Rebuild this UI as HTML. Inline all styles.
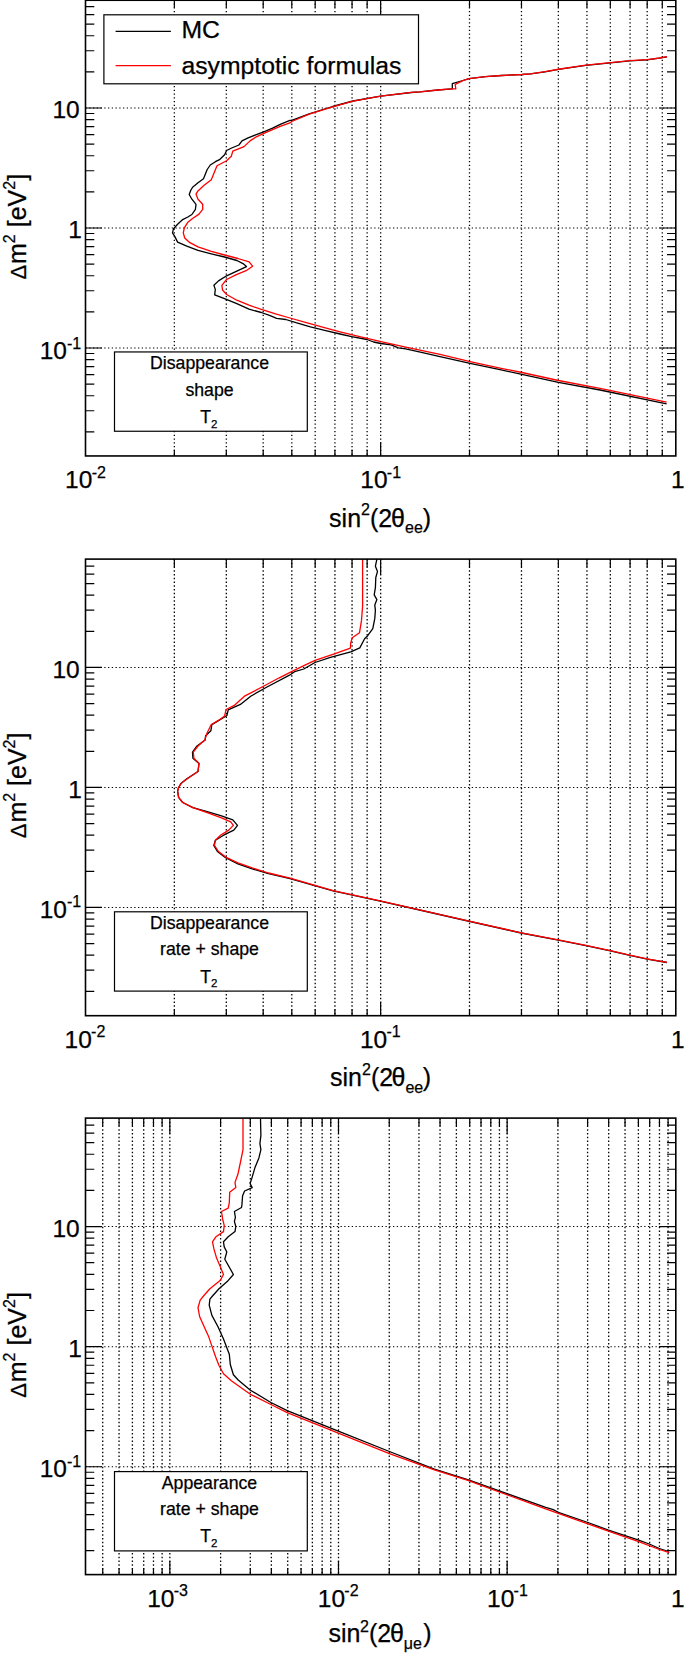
<!DOCTYPE html>
<html><head><meta charset="utf-8"><title>plots</title>
<style>html,body{margin:0;padding:0;background:#fff}svg{display:block}</style>
</head><body>
<svg width="685" height="1655" viewBox="0 0 685 1655" font-family='"Liberation Sans", sans-serif' fill="#000"><style>text{stroke:#000;stroke-width:0.25px}</style>
<rect x="0" y="0" width="685" height="1655" fill="#fff"/>
<g>
<path d="M174.35 -0.35V455.95M226.32 -0.35V455.95M263.2 -0.35V455.95M291.8 -0.35V455.95M315.17 -0.35V455.95M334.93 -0.35V455.95M352.05 -0.35V455.95M367.14 -0.35V455.95M380.65 -0.35V455.95M469.5 -0.35V455.95M521.47 -0.35V455.95M558.35 -0.35V455.95M586.95 -0.35V455.95M610.32 -0.35V455.95M630.08 -0.35V455.95M647.2 -0.35V455.95M662.29 -0.35V455.95" stroke="#000" stroke-width="1.3" stroke-dasharray="1.3 2.45" fill="none"/>
<path d="M85.5 348.02H675.8M85.5 228.02H675.8M85.5 108.02H675.8" stroke="#000" stroke-width="1.05" stroke-dasharray="1.3 2.45" fill="none"/>
<path d="M174.35 455.95v-6.3M174.35 -0.35v8M226.32 455.95v-6.3M226.32 -0.35v8M263.2 455.95v-6.3M263.2 -0.35v8M291.8 455.95v-6.3M291.8 -0.35v8M315.17 455.95v-6.3M315.17 -0.35v8M334.93 455.95v-6.3M334.93 -0.35v8M352.05 455.95v-6.3M352.05 -0.35v8M367.14 455.95v-6.3M367.14 -0.35v8M380.65 455.95v-13.7M380.65 -0.35v15.6M469.5 455.95v-6.3M469.5 -0.35v8M521.47 455.95v-6.3M521.47 -0.35v8M558.35 455.95v-6.3M558.35 -0.35v8M586.95 455.95v-6.3M586.95 -0.35v8M610.32 455.95v-6.3M610.32 -0.35v8M630.08 455.95v-6.3M630.08 -0.35v8M647.2 455.95v-6.3M647.2 -0.35v8M662.29 455.95v-6.3M662.29 -0.35v8M85.5 431.9h8.8M675.8 431.9h-8.8M85.5 410.77h8.8M675.8 410.77h-8.8M85.5 395.77h8.8M675.8 395.77h-8.8M85.5 384.14h8.8M675.8 384.14h-8.8M85.5 374.64h8.8M675.8 374.64h-8.8M85.5 366.61h8.8M675.8 366.61h-8.8M85.5 359.65h8.8M675.8 359.65h-8.8M85.5 353.51h8.8M675.8 353.51h-8.8M85.5 348.02h16.5M675.8 348.02h-16.5M85.5 311.9h8.8M675.8 311.9h-8.8M85.5 290.77h8.8M675.8 290.77h-8.8M85.5 275.77h8.8M675.8 275.77h-8.8M85.5 264.14h8.8M675.8 264.14h-8.8M85.5 254.64h8.8M675.8 254.64h-8.8M85.5 246.61h8.8M675.8 246.61h-8.8M85.5 239.65h8.8M675.8 239.65h-8.8M85.5 233.51h8.8M675.8 233.51h-8.8M85.5 228.02h16.5M675.8 228.02h-16.5M85.5 191.9h8.8M675.8 191.9h-8.8M85.5 170.77h8.8M675.8 170.77h-8.8M85.5 155.77h8.8M675.8 155.77h-8.8M85.5 144.14h8.8M675.8 144.14h-8.8M85.5 134.64h8.8M675.8 134.64h-8.8M85.5 126.61h8.8M675.8 126.61h-8.8M85.5 119.65h8.8M675.8 119.65h-8.8M85.5 113.51h8.8M675.8 113.51h-8.8M85.5 108.02h16.5M675.8 108.02h-16.5M85.5 71.9h8.8M675.8 71.9h-8.8M85.5 50.77h8.8M675.8 50.77h-8.8M85.5 35.77h8.8M675.8 35.77h-8.8M85.5 24.14h8.8M675.8 24.14h-8.8M85.5 14.64h8.8M675.8 14.64h-8.8M85.5 6.61h8.8M675.8 6.61h-8.8" stroke="#000" stroke-width="1.2" fill="none"/>
<path d="M667 56.8 L659.4 58.2 L647.2 59.8 L629.8 60.9 L610.4 62.9 L585.9 65.4 L560 69.2 L545 71.8 L530.4 73.9 L522.2 74.5 L501.7 75.5 L485.4 76.6 L469 78.6 L462.9 80.5 L452.3 83.7 L452.3 88.8 L437.7 90 L420 91.9 L411.4 92.5 L380.7 96.1 L353 101 L332.6 106.5 L309.2 113.8 L291.7 120.4 L290 120.4 L280.8 124.1 L272.6 128.2 L264.4 131.7 L256.3 134.7 L248.1 137.8 L242 140.9 L238.9 145 L231.7 148 L226.6 150.5 L224.6 154.8 L219.5 159.7 L215.4 161.7 L210.3 165 L207.2 169.5 L203.5 178.7 L198 182.8 L192.9 186.9 L190.9 190 L189.2 194.5 L191.9 199.2 L196 204.3 L195.4 209.4 L191.9 214.5 L187.8 217 L182.7 219.6 L177.6 224.3 L173.5 228.8 L172.5 232.9 L174.9 236.6 L177.6 242.1 L186.8 246.2 L198 250.3 L211.3 253.8 L224.6 257 L236.9 260.5 L243 263.6 L246.5 266.6 L237.9 270.7 L226.6 275.8 L218.5 280.9 L213.9 285.3 L215.3 289.4 L214.7 294.9 L224.5 298.6 L236.8 303.7 L249 309.2 L261.3 312.5 L269.5 315.4 L276.6 318.4 L285.8 319.5 L296 322.7 L310.4 326.8 L324.7 330.3 L340 334 L351.7 336.6 L367 339.5 L373.6 342 L380.9 343.5 L391.1 344.9 L398.4 347.8 L405.7 348.9 L420.3 352.2 L440 356.6 L470.1 363.4 L500 369.7 L521.9 374.3 L558.4 382.3 L600 390 L666.6 403.9" stroke="#000" stroke-width="1.3" fill="none" stroke-linejoin="round"/>
<path d="M667 56.6 L659.4 58 L647.2 59.6 L629.8 60.7 L610.4 62.7 L585.9 65.2 L560 69 L545 71.6 L530.4 73.9 L522.2 74.5 L501.7 75.5 L485.4 76.6 L469 78.6 L462.9 80.7 L455.2 84.3 L455.8 88.8 L451.7 88.8 L437.7 90 L420 91.9 L411.4 92.3 L380.7 96.1 L353 101.1 L332.6 106.9 L309.2 114.2 L291.7 121.5 L290 122.9 L280.8 126.2 L272.6 129.6 L264.4 133.1 L256.3 136.8 L250.1 140.9 L244 146.6 L232.8 151.1 L231.3 156.2 L226.6 160.7 L217 165.8 L211.3 179.7 L203.5 185.8 L198 190.9 L196 194.1 L198 199.2 L202.7 204.3 L202.7 209.4 L199 214.1 L192.9 218.2 L187.8 222.3 L184.3 227.8 L183.3 232.9 L184.7 238 L189.9 242.7 L198 246.8 L211.3 251.3 L224.6 255 L237.9 258.5 L249.1 261.9 L252.6 266.2 L246.1 270.7 L235.8 274.8 L226.6 279.5 L221.9 285.3 L222.5 290 L226.6 294.5 L236.8 300.2 L249 305.2 L261.3 309.4 L275.6 313.9 L289.9 318 L306.3 322.7 L322.6 327.2 L340 331.8 L367 338.4 L380.9 341.6 L405.7 347.1 L440 354.4 L470.1 361.6 L500 368.1 L521.9 372.5 L558.4 380.5 L600 388.3 L666.6 402.1" stroke="#f00" stroke-width="1.3" fill="none" stroke-linejoin="round"/>
<rect x="85.5" y="0.25" width="590.3" height="455.7" fill="none" stroke="#000" stroke-width="1.6"/>
<rect x="103.9" y="14.8" width="314.6" height="69" fill="#fff" stroke="#000" stroke-width="1.2"/>
<path d="M115.6 31.4H170.9" stroke="#000" stroke-width="1.2"/>
<path d="M115.6 65.7H170.9" stroke="#f00" stroke-width="1.2"/>
<text x="181.4" y="38.2" font-size="24.75">MC</text>
<text x="181.4" y="73.6" font-size="24.75">asymptotic formulas</text>
<rect x="114.5" y="351.95" width="192.8" height="79.3" fill="#fff" stroke="#000" stroke-width="1.2"/>
<text x="209.5" y="368.95" font-size="17.7" text-anchor="middle">Disappearance</text>
<text x="209.5" y="395.65" font-size="17.7" text-anchor="middle">shape</text>
<text x="200.2" y="423.05" font-size="17.7">T<tspan font-size="11.5" dy="4.5">2</tspan></text>
<text x="79.7" y="118.42" font-size="24.5" text-anchor="end">10</text>
<text x="81.9" y="238.42" font-size="24.5" text-anchor="end">1</text>
<text x="81.2" y="359.42" font-size="24.5" text-anchor="end">10<tspan font-size="16.0" dy="-10.5">-1</tspan></text>
<text x="85.5" y="488.05" font-size="24.5" text-anchor="middle">10<tspan font-size="16.0" dy="-10.5" dx="-0.7">-2</tspan></text>
<text x="380.65" y="488.05" font-size="24.5" text-anchor="middle">10<tspan font-size="16.0" dy="-10.5" dx="-0.7">-1</tspan></text>
<text x="677.8" y="488.05" font-size="24.5" text-anchor="middle">1</text>
<text x="329.1" y="526.65" font-size="25.0">sin<tspan font-size="16" dy="-11.5" dx="0">2</tspan><tspan dy="11.5">(2</tspan><tspan dx="-1.1">θ</tspan><tspan font-size="16" dy="6.5">ee</tspan><tspan dy="-6.5" dx="0">)</tspan></text>
<text transform="translate(26 279.55) rotate(-90)" font-size="25.0"><tspan font-size="22">Δ</tspan><tspan dx="0.9">m</tspan><tspan font-size="16" dy="-11.5">2</tspan><tspan dy="11.5"> [eV</tspan><tspan font-size="16" dy="-11.5">2</tspan><tspan dy="11.5">]</tspan></text>
</g>
<g>
<path d="M174.35 559.1V1015.7M226.32 559.1V1015.7M263.2 559.1V1015.7M291.8 559.1V1015.7M315.17 559.1V1015.7M334.93 559.1V1015.7M352.05 559.1V1015.7M367.14 559.1V1015.7M380.65 559.1V1015.7M469.5 559.1V1015.7M521.47 559.1V1015.7M558.35 559.1V1015.7M586.95 559.1V1015.7M610.32 559.1V1015.7M630.08 559.1V1015.7M647.2 559.1V1015.7M662.29 559.1V1015.7" stroke="#000" stroke-width="1.3" stroke-dasharray="1.3 2.45" fill="none"/>
<path d="M85.5 907.47H675.8M85.5 787.47H675.8M85.5 667.47H675.8" stroke="#000" stroke-width="1.05" stroke-dasharray="1.3 2.45" fill="none"/>
<path d="M174.35 1015.7v-6.3M174.35 559.1v8M226.32 1015.7v-6.3M226.32 559.1v8M263.2 1015.7v-6.3M263.2 559.1v8M291.8 1015.7v-6.3M291.8 559.1v8M315.17 1015.7v-6.3M315.17 559.1v8M334.93 1015.7v-6.3M334.93 559.1v8M352.05 1015.7v-6.3M352.05 559.1v8M367.14 1015.7v-6.3M367.14 559.1v8M380.65 1015.7v-13.7M380.65 559.1v15.6M469.5 1015.7v-6.3M469.5 559.1v8M521.47 1015.7v-6.3M521.47 559.1v8M558.35 1015.7v-6.3M558.35 559.1v8M586.95 1015.7v-6.3M586.95 559.1v8M610.32 1015.7v-6.3M610.32 559.1v8M630.08 1015.7v-6.3M630.08 559.1v8M647.2 1015.7v-6.3M647.2 559.1v8M662.29 1015.7v-6.3M662.29 559.1v8M85.5 991.35h8.8M675.8 991.35h-8.8M85.5 970.22h8.8M675.8 970.22h-8.8M85.5 955.22h8.8M675.8 955.22h-8.8M85.5 943.59h8.8M675.8 943.59h-8.8M85.5 934.09h8.8M675.8 934.09h-8.8M85.5 926.06h8.8M675.8 926.06h-8.8M85.5 919.1h8.8M675.8 919.1h-8.8M85.5 912.96h8.8M675.8 912.96h-8.8M85.5 907.47h16.5M675.8 907.47h-16.5M85.5 871.35h8.8M675.8 871.35h-8.8M85.5 850.22h8.8M675.8 850.22h-8.8M85.5 835.22h8.8M675.8 835.22h-8.8M85.5 823.59h8.8M675.8 823.59h-8.8M85.5 814.09h8.8M675.8 814.09h-8.8M85.5 806.06h8.8M675.8 806.06h-8.8M85.5 799.1h8.8M675.8 799.1h-8.8M85.5 792.96h8.8M675.8 792.96h-8.8M85.5 787.47h16.5M675.8 787.47h-16.5M85.5 751.35h8.8M675.8 751.35h-8.8M85.5 730.22h8.8M675.8 730.22h-8.8M85.5 715.22h8.8M675.8 715.22h-8.8M85.5 703.59h8.8M675.8 703.59h-8.8M85.5 694.09h8.8M675.8 694.09h-8.8M85.5 686.06h8.8M675.8 686.06h-8.8M85.5 679.1h8.8M675.8 679.1h-8.8M85.5 672.96h8.8M675.8 672.96h-8.8M85.5 667.47h16.5M675.8 667.47h-16.5M85.5 631.35h8.8M675.8 631.35h-8.8M85.5 610.22h8.8M675.8 610.22h-8.8M85.5 595.22h8.8M675.8 595.22h-8.8M85.5 583.59h8.8M675.8 583.59h-8.8M85.5 574.09h8.8M675.8 574.09h-8.8M85.5 566.06h8.8M675.8 566.06h-8.8" stroke="#000" stroke-width="1.2" fill="none"/>
<path d="M376.9 559.1 L375.4 566.2 L377.5 571.4 L375.8 577.5 L375.4 587.7 L374.2 594.9 L376.9 599.6 L374.8 605.1 L375.4 610.2 L374.8 618.4 L372.8 628.6 L367.7 635.7 L364.6 638.8 L359.8 647.9 L350.8 651.9 L330.4 657.4 L315 662.5 L303.8 669 L294.6 671.7 L289.5 675.2 L267 687 L250.7 696.2 L240.4 704.4 L228.2 709.9 L226.9 715.5 L218.5 720.6 L211.8 724.7 L210.9 730.7 L205.6 735.8 L205.2 739.9 L197 746 L192.5 752.1 L192.9 758.2 L199 763.4 L198 771.5 L186.8 778.7 L180.7 783.8 L178.4 788 L177.6 791.2 L178.6 797.4 L182.7 802.5 L192.9 807.6 L207.2 811.7 L221.5 815.8 L232.8 819.9 L237.5 825.4 L233.8 830.1 L223.6 835.2 L215.4 840.3 L213.8 845.4 L217.4 851.5 L225.6 857.7 L237.9 863.8 L252.2 868.9 L268.5 873.6 L290 878.7 L333.1 890.9 L380.2 901.1 L410.8 908 L470.1 921.5 L521.2 933 L558.3 940.1 L585.9 945.6 L610.4 950.9 L629.8 955.4 L647.2 959.1 L667 962.5" stroke="#000" stroke-width="1.3" fill="none" stroke-linejoin="round"/>
<path d="M362.6 559.1 L362.6 606.1 L361.5 620.4 L359.5 632.7 L352.3 637.8 L350.7 642.9 L350.4 648.2 L334.4 653.9 L315 660.4 L301.8 666.6 L292.6 671.1 L279.3 677.8 L263.9 686 L244.5 696.2 L239.4 700.7 L234.3 705.4 L226.1 709.5 L224.6 715.9 L218.5 720.4 L211.3 724.5 L207.2 732.7 L204.8 739.9 L198 746 L193.3 752.1 L193.9 758.2 L199 763.4 L198 771.5 L188.8 777.7 L181.7 782.8 L178.6 787.5 L177.6 791.2 L178.6 797.4 L182.7 802.5 L192.9 807.6 L207.2 812.7 L221.5 817.8 L230.7 821.9 L233.4 825.4 L228.7 830.1 L220.5 835.2 L215.4 840.3 L214.4 845.4 L218.5 851.5 L226.6 857.7 L237.9 862.8 L252.2 867.9 L268.5 873 L290 878.1 L333.1 890.7 L380.2 900.9 L410.8 907.8 L470.1 921.3 L521.2 932.8 L558.3 939.9 L585.9 945.4 L610.4 950.7 L629.8 955.2 L647.2 958.9 L667 962.3" stroke="#f00" stroke-width="1.3" fill="none" stroke-linejoin="round"/>
<rect x="85.5" y="559.1" width="590.3" height="456.6" fill="none" stroke="#000" stroke-width="1.6"/>
<rect x="114.5" y="911.8" width="192.8" height="79.3" fill="#fff" stroke="#000" stroke-width="1.2"/>
<text x="209.5" y="929.1" font-size="17.7" text-anchor="middle">Disappearance</text>
<text x="209.5" y="955.1" font-size="17.7" text-anchor="middle">rate + shape</text>
<text x="200.2" y="982.5" font-size="17.7">T<tspan font-size="11.5" dy="4.5">2</tspan></text>
<text x="79.7" y="677.87" font-size="24.5" text-anchor="end">10</text>
<text x="81.9" y="797.87" font-size="24.5" text-anchor="end">1</text>
<text x="81.2" y="917.97" font-size="24.5" text-anchor="end">10<tspan font-size="16.0" dy="-10.5">-1</tspan></text>
<text x="84.9" y="1047.8" font-size="24.5" text-anchor="middle">10<tspan font-size="16.0" dy="-10.5" dx="-0.7">-2</tspan></text>
<text x="380.35" y="1047.8" font-size="24.5" text-anchor="middle">10<tspan font-size="16.0" dy="-10.5" dx="-0.7">-1</tspan></text>
<text x="677.8" y="1047.8" font-size="24.5" text-anchor="middle">1</text>
<text x="330.0" y="1086.4" font-size="25.0">sin<tspan font-size="16" dy="-11.5" dx="0">2</tspan><tspan dy="11.5">(2</tspan><tspan dx="-1.6">θ</tspan><tspan font-size="16" dy="6.5">ee</tspan><tspan dy="-6.5" dx="-0.4">)</tspan></text>
<text transform="translate(26 838.2) rotate(-90)" font-size="25.0"><tspan font-size="22">Δ</tspan><tspan dx="0.9">m</tspan><tspan font-size="16" dy="-11.5">2</tspan><tspan dy="11.5"> [eV</tspan><tspan font-size="16" dy="-11.5">2</tspan><tspan dy="11.5">]</tspan></text>
</g>
<g>
<path d="M102.71 1118.1V1574.6M119.06 1118.1V1574.6M132.41 1118.1V1574.6M143.7 1118.1V1574.6M153.48 1118.1V1574.6M162.11 1118.1V1574.6M169.83 1118.1V1574.6M220.6 1118.1V1574.6M250.3 1118.1V1574.6M271.37 1118.1V1574.6M287.71 1118.1V1574.6M301.07 1118.1V1574.6M312.36 1118.1V1574.6M322.14 1118.1V1574.6M330.77 1118.1V1574.6M338.49 1118.1V1574.6M389.26 1118.1V1574.6M418.96 1118.1V1574.6M440.03 1118.1V1574.6M456.37 1118.1V1574.6M469.73 1118.1V1574.6M481.02 1118.1V1574.6M490.8 1118.1V1574.6M499.43 1118.1V1574.6M507.14 1118.1V1574.6M557.91 1118.1V1574.6M587.61 1118.1V1574.6M608.68 1118.1V1574.6M625.03 1118.1V1574.6M638.38 1118.1V1574.6M649.67 1118.1V1574.6M659.46 1118.1V1574.6M668.08 1118.1V1574.6" stroke="#000" stroke-width="1.3" stroke-dasharray="1.3 2.45" fill="none"/>
<path d="M85.5 1466.76H675.8M85.5 1346.66H675.8M85.5 1226.56H675.8" stroke="#000" stroke-width="1.05" stroke-dasharray="1.3 2.45" fill="none"/>
<path d="M102.71 1574.6v-6.3M102.71 1118.1v8M119.06 1574.6v-6.3M119.06 1118.1v8M132.41 1574.6v-6.3M132.41 1118.1v8M143.7 1574.6v-6.3M143.7 1118.1v8M153.48 1574.6v-6.3M153.48 1118.1v8M162.11 1574.6v-6.3M162.11 1118.1v8M169.83 1574.6v-13.7M169.83 1118.1v15.6M220.6 1574.6v-6.3M220.6 1118.1v8M250.3 1574.6v-6.3M250.3 1118.1v8M271.37 1574.6v-6.3M271.37 1118.1v8M287.71 1574.6v-6.3M287.71 1118.1v8M301.07 1574.6v-6.3M301.07 1118.1v8M312.36 1574.6v-6.3M312.36 1118.1v8M322.14 1574.6v-6.3M322.14 1118.1v8M330.77 1574.6v-6.3M330.77 1118.1v8M338.49 1574.6v-13.7M338.49 1118.1v15.6M389.26 1574.6v-6.3M389.26 1118.1v8M418.96 1574.6v-6.3M418.96 1118.1v8M440.03 1574.6v-6.3M440.03 1118.1v8M456.37 1574.6v-6.3M456.37 1118.1v8M469.73 1574.6v-6.3M469.73 1118.1v8M481.02 1574.6v-6.3M481.02 1118.1v8M490.8 1574.6v-6.3M490.8 1118.1v8M499.43 1574.6v-6.3M499.43 1118.1v8M507.14 1574.6v-13.7M507.14 1118.1v15.6M557.91 1574.6v-6.3M557.91 1118.1v8M587.61 1574.6v-6.3M587.61 1118.1v8M608.68 1574.6v-6.3M608.68 1118.1v8M625.03 1574.6v-6.3M625.03 1118.1v8M638.38 1574.6v-6.3M638.38 1118.1v8M649.67 1574.6v-6.3M649.67 1118.1v8M659.46 1574.6v-6.3M659.46 1118.1v8M668.08 1574.6v-6.3M668.08 1118.1v8M85.5 1550.71h8.8M675.8 1550.71h-8.8M85.5 1529.56h8.8M675.8 1529.56h-8.8M85.5 1514.55h8.8M675.8 1514.55h-8.8M85.5 1502.91h8.8M675.8 1502.91h-8.8M85.5 1493.41h8.8M675.8 1493.41h-8.8M85.5 1485.36h8.8M675.8 1485.36h-8.8M85.5 1478.4h8.8M675.8 1478.4h-8.8M85.5 1472.26h8.8M675.8 1472.26h-8.8M85.5 1466.76h16.5M675.8 1466.76h-16.5M85.5 1430.61h8.8M675.8 1430.61h-8.8M85.5 1409.46h8.8M675.8 1409.46h-8.8M85.5 1394.45h8.8M675.8 1394.45h-8.8M85.5 1382.81h8.8M675.8 1382.81h-8.8M85.5 1373.31h8.8M675.8 1373.31h-8.8M85.5 1365.26h8.8M675.8 1365.26h-8.8M85.5 1358.3h8.8M675.8 1358.3h-8.8M85.5 1352.16h8.8M675.8 1352.16h-8.8M85.5 1346.66h16.5M675.8 1346.66h-16.5M85.5 1310.51h8.8M675.8 1310.51h-8.8M85.5 1289.36h8.8M675.8 1289.36h-8.8M85.5 1274.35h8.8M675.8 1274.35h-8.8M85.5 1262.71h8.8M675.8 1262.71h-8.8M85.5 1253.21h8.8M675.8 1253.21h-8.8M85.5 1245.16h8.8M675.8 1245.16h-8.8M85.5 1238.2h8.8M675.8 1238.2h-8.8M85.5 1232.06h8.8M675.8 1232.06h-8.8M85.5 1226.56h16.5M675.8 1226.56h-16.5M85.5 1190.41h8.8M675.8 1190.41h-8.8M85.5 1169.26h8.8M675.8 1169.26h-8.8M85.5 1154.25h8.8M675.8 1154.25h-8.8M85.5 1142.61h8.8M675.8 1142.61h-8.8M85.5 1133.11h8.8M675.8 1133.11h-8.8M85.5 1125.06h8.8M675.8 1125.06h-8.8" stroke="#000" stroke-width="1.2" fill="none"/>
<path d="M260.5 1119.1 L260.9 1135.4 L259.9 1143.6 L260.9 1149.7 L258.9 1157.9 L254.8 1168.1 L251.8 1178.4 L250.1 1183.5 L252.2 1187.6 L244.6 1191 L242.6 1195.7 L241.9 1204.9 L241.5 1207.5 L234.4 1211.5 L235.4 1217.3 L234.4 1221.3 L235.8 1226.5 L235 1231.6 L228.2 1236.7 L223.5 1241.8 L224.2 1246.9 L226.8 1252 L224.8 1259.2 L228.2 1265.3 L233.4 1274.5 L227.2 1281.6 L219 1288.8 L212.5 1296 L209.9 1299.1 L209.2 1305.2 L211.9 1315.4 L218 1326.7 L223.5 1338.9 L229.3 1354.3 L230.3 1364.5 L233.4 1374.7 L238.2 1380 L250.4 1390.2 L270.9 1402.5 L287.2 1410.7 L338.3 1431.1 L389.4 1451.5 L434.4 1469.1 L469.2 1480.2 L545 1507.2 L553.2 1509.6 L558.3 1512.3 L587.9 1522.5 L608.4 1530.1 L638 1539.9 L649.2 1544 L659.4 1548.5 L668.6 1551.5" stroke="#000" stroke-width="1.3" fill="none" stroke-linejoin="round"/>
<path d="M243 1119.1 L243 1149.7 L240.5 1162 L237.9 1174.3 L235 1182.4 L235.8 1187.6 L229.7 1192.3 L229.3 1202.9 L228.2 1208.1 L221.5 1211.5 L222.7 1219.3 L224.2 1225.4 L223.5 1231.6 L216 1236.7 L212.5 1241.8 L213.9 1248.9 L216.6 1258.1 L220.1 1266.3 L223.5 1274.5 L220.1 1280.6 L209.9 1288.8 L203.5 1296 L200.2 1300.1 L198 1307.7 L199.6 1316.5 L203.7 1325.7 L208.4 1335.9 L211.9 1346.1 L215.4 1356.3 L219 1365.5 L223.5 1373.7 L231.3 1380.8 L241.5 1388 L250.4 1394.3 L270.9 1404.5 L287.2 1412.7 L338.3 1433.1 L389.4 1453.6 L434.4 1469.9 L467.1 1480.2 L545 1508.6 L558.3 1513.3 L587.9 1523.9 L608.4 1531.1 L638 1541.3 L659.4 1549.5 L669.3 1552.6" stroke="#f00" stroke-width="1.3" fill="none" stroke-linejoin="round"/>
<rect x="85.5" y="1118.1" width="590.3" height="456.5" fill="none" stroke="#000" stroke-width="1.6"/>
<rect x="114.5" y="1471.6" width="192.8" height="79.3" fill="#fff" stroke="#000" stroke-width="1.2"/>
<text x="209.5" y="1488.9" font-size="17.7" text-anchor="middle">Appearance</text>
<text x="209.5" y="1514.9" font-size="17.7" text-anchor="middle">rate + shape</text>
<text x="200.2" y="1542.3" font-size="17.7">T<tspan font-size="11.5" dy="4.5">2</tspan></text>
<text x="79.7" y="1236.96" font-size="24.5" text-anchor="end">10</text>
<text x="81.9" y="1357.06" font-size="24.5" text-anchor="end">1</text>
<text x="81.2" y="1477.16" font-size="24.5" text-anchor="end">10<tspan font-size="16.0" dy="-10.5">-1</tspan></text>
<text x="167.58" y="1606.7" font-size="24.5" text-anchor="middle">10<tspan font-size="16.0" dy="-10.5" dx="-0.7">-3</tspan></text>
<text x="338.19" y="1606.7" font-size="24.5" text-anchor="middle">10<tspan font-size="16.0" dy="-10.5" dx="-0.7">-2</tspan></text>
<text x="507.44" y="1606.7" font-size="24.5" text-anchor="middle">10<tspan font-size="16.0" dy="-10.5" dx="-0.7">-1</tspan></text>
<text x="677.8" y="1606.7" font-size="24.5" text-anchor="middle">1</text>
<text x="328.5" y="1642.3" font-size="25.0">sin<tspan font-size="16" dy="-10.8" dx="-0.5">2</tspan><tspan dy="10.8">(2</tspan><tspan dx="-1.2">θ</tspan><tspan font-size="16" dy="6.5">μe</tspan><tspan dy="-6.5" dx="1.2">)</tspan></text>
<text transform="translate(26 1397.8) rotate(-90)" font-size="25.0"><tspan font-size="22">Δ</tspan><tspan dx="0.9">m</tspan><tspan font-size="16" dy="-11.5">2</tspan><tspan dy="11.5"> [eV</tspan><tspan font-size="16" dy="-11.5">2</tspan><tspan dy="11.5">]</tspan></text>
</g>
</svg>
</body></html>
